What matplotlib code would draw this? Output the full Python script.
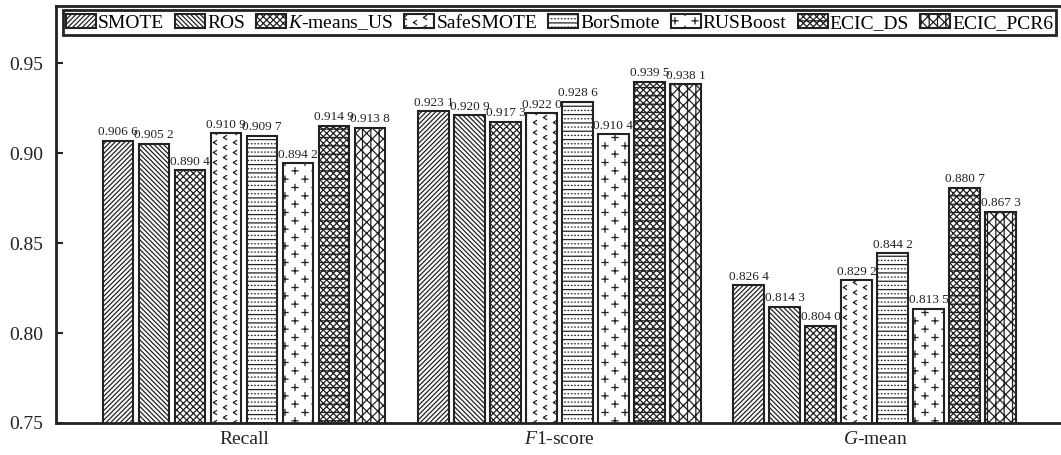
import warnings

import matplotlib
matplotlib.use("Agg")
import matplotlib.hatch as mhatch
import matplotlib.pyplot as plt
import numpy as np
from matplotlib.path import Path as MPath

warnings.filterwarnings("ignore", category=matplotlib.MatplotlibDeprecationWarning)

METRICS = ["Recall", "$F$1-score", "$G$-mean"]
METHODS = ["SMOTE", "ROS", "$K$-means_US", "SafeSMOTE", "BorSmote",
           "RUSBoost", "ECIC_DS", "ECIC_PCR6"]

RECALL = [0.9066, 0.9052, 0.8904, 0.9109, 0.9097, 0.8942, 0.9149, 0.9138]
F1_SCORE = [0.9231, 0.9209, 0.9173, 0.9220, 0.9286, 0.9104, 0.9395, 0.9381]
G_MEAN = [0.8264, 0.8143, 0.8040, 0.8292, 0.8442, 0.8135, 0.8807, 0.8673]

# 'c', 'p' and 'd' are extra hatch codes registered below
HATCHES = ["/" * 7, "\\" * 7, "xxxxx", "c", "d", "p", "xxxxx--", "xxx||"]


class SegmentHatch(mhatch.HatchPatternBase):
    """Hatch built from plain line segments inside the unit tile."""
    char = None

    def __init__(self, hatch, density):
        self.segments = self.build() if self.char and self.char in hatch else []
        self.num_vertices = 2 * len(self.segments)

    def build(self):
        return []

    def set_vertices_and_codes(self, vertices, codes):
        vertices[:] = np.asarray(self.segments, dtype=float).reshape(-1, 2)
        codes[0::2] = MPath.MOVETO
        codes[1::2] = MPath.LINETO


def staggered(ncols, nrows, shape):
    # shape is given in pixels of a 100 px tile
    segs = []
    for c in range(ncols):
        for r in range(nrows):
            x = (c + 0.5) / ncols
            y = (r + 0.25 + 0.5 * (c % 2)) / nrows
            for (x0, y0), (x1, y1) in shape:
                segs.append([(x + x0 / 100, y + y0 / 100),
                             (x + x1 / 100, y + y1 / 100)])
    return segs


class ChevronHatch(SegmentHatch):
    char = "c"

    def build(self):
        return staggered(10, 10, [((1.5, 2.0), (-1.5, 0.0)),
                                  ((-1.5, 0.0), (1.5, -2.0))])


class PlusHatch(SegmentHatch):
    char = "p"

    def build(self):
        return staggered(10, 6, [((-3.0, 0.0), (3.0, 0.0)),
                                 ((0.0, -3.0), (0.0, 3.0))])


class LineDotHatch(SegmentHatch):
    char = "d"

    def build(self):
        segs = []
        n_rows = 12
        for i in range(n_rows):
            y = (i + 0.25) / n_rows
            segs.append([(0.0, y), (1.0, y)])
            yd = (i + 0.75) / n_rows
            for j in range(30):
                xd = (j + 0.5) / 30
                segs.append([(xd - 0.002, yd), (xd + 0.002, yd)])
        return segs


mhatch._hatch_types.extend([ChevronHatch, PlusHatch, LineDotHatch])

plt.rcParams["font.family"] = "Liberation Serif"
plt.rcParams["mathtext.fontset"] = "custom"
plt.rcParams["mathtext.rm"] = "Liberation Serif"
plt.rcParams["mathtext.it"] = "Liberation Serif:italic"
plt.rcParams["hatch.color"] = "#222222"
plt.rcParams["hatch.linewidth"] = 0.9

INK = "#222222"


def fmt_value(v: float) -> str:
    s = f"{v:.4f}"
    return s[:5] + " " + s[5:]


def main() -> None:
    scores = np.array([RECALL, F1_SCORE, G_MEAN])
    group_x = np.arange(len(METRICS))
    pitch = 0.1141
    width = 0.098

    fig = plt.figure(figsize=(10.61, 4.55), dpi=100)
    ax = fig.add_axes([56 / 1061, 32 / 455, 1005 / 1061, 417 / 455])

    handles = []
    for i, (name, hatch) in enumerate(zip(METHODS, HATCHES)):
        xs = group_x + (i - 3.5) * pitch
        bars = ax.bar(xs, scores[:, i], width=width, color="white",
                      edgecolor=INK, linewidth=1.5, hatch=hatch, label=name)
        handles.append(bars)
        for x, v in zip(xs, scores[:, i]):
            ax.annotate(fmt_value(v), (x, v), xytext=(0, 2),
                        textcoords="offset points", ha="center", va="bottom",
                        fontsize=9.5, color=INK)

    ax.set_xlim(-0.596, 2.59)
    ax.set_ylim(0.75, 0.9817)
    ax.set_yticks([0.75, 0.80, 0.85, 0.90, 0.95])
    ax.set_yticklabels(["0.75", "0.80", "0.85", "0.90", "0.95"])
    ax.set_xticks(group_x)
    ax.set_xticklabels(METRICS)

    ax.tick_params(axis="y", direction="in", length=5, width=1.5, pad=9,
                   labelsize=14, colors=INK)
    ax.tick_params(axis="x", length=0, pad=6, labelsize=14, colors=INK)
    for side in ("left", "top", "bottom"):
        ax.spines[side].set_linewidth(2)
        ax.spines[side].set_color(INK)
    ax.spines["right"].set_visible(False)

    leg = ax.legend(handles=handles, loc="upper left", ncol=8, mode="expand",
                    bbox_to_anchor=(0.007, 0.990, 0.988, 0.0),
                    borderaxespad=0, borderpad=0.15, fontsize=14,
                    handlelength=1.55, handleheight=0.7, handletextpad=0.1,
                    columnspacing=0.3, fancybox=False, framealpha=1)
    leg.get_frame().set_edgecolor(INK)
    leg.get_frame().set_linewidth(2)

    fig.savefig("out.png", dpi=100)
    plt.close(fig)


if __name__ == "__main__":
    main()
